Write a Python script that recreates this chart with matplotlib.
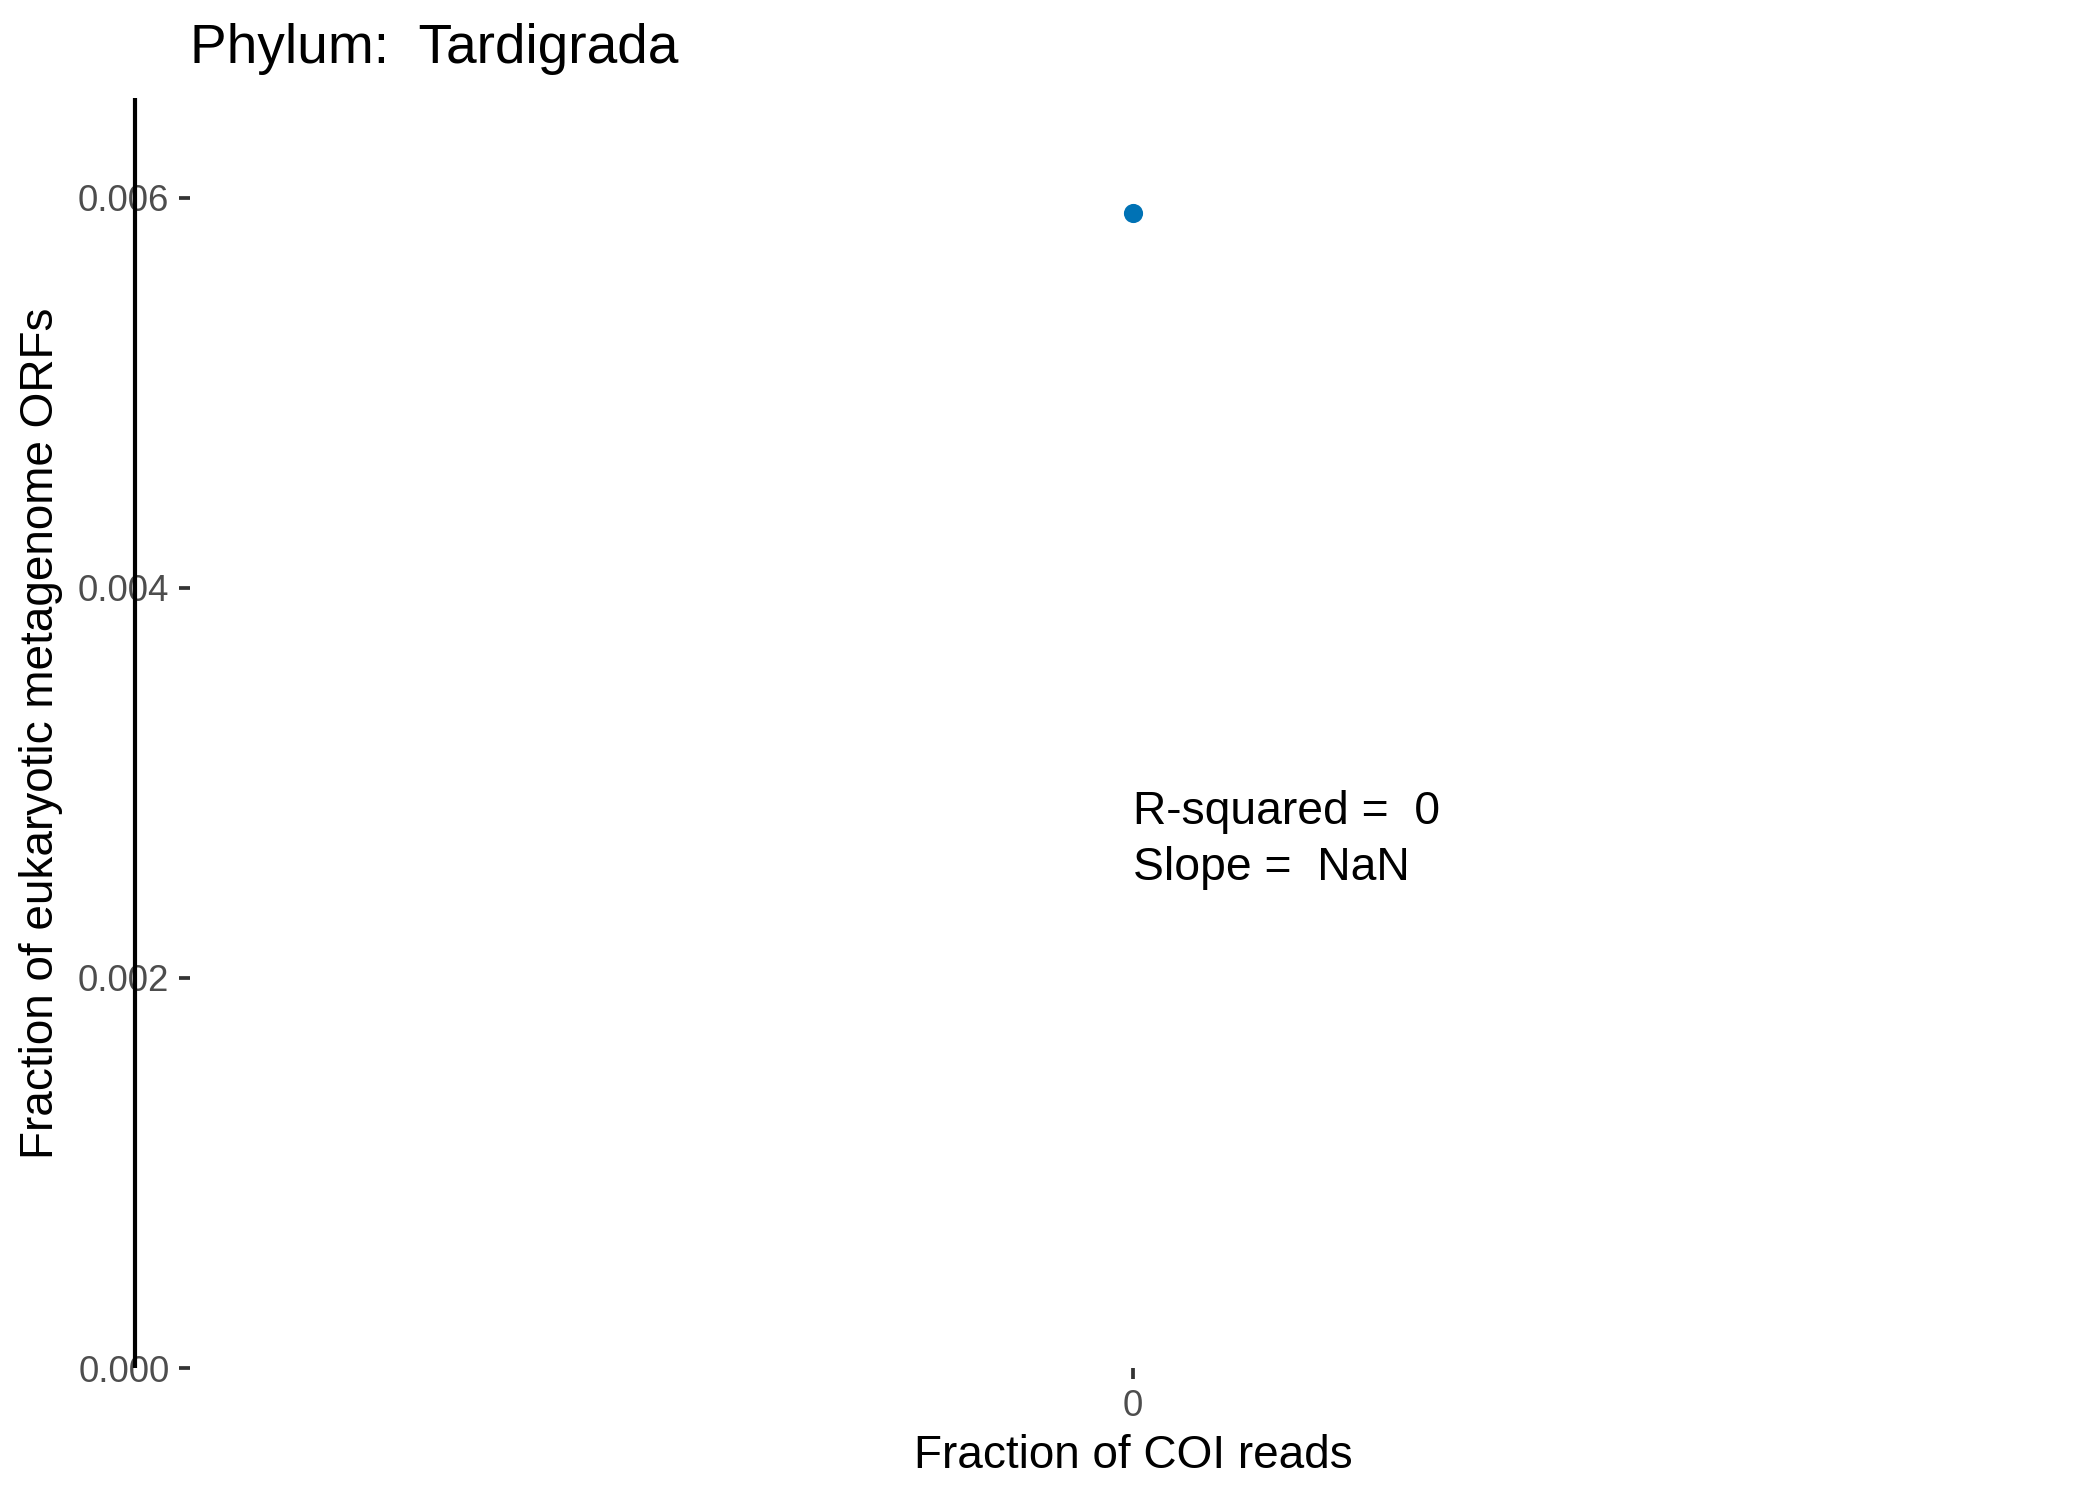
import matplotlib
matplotlib.use("Agg")
import matplotlib.pyplot as plt

plt.rcParams['font.family'] = ['Liberation Sans', 'DejaVu Sans']

# ---- data ----
phylum = "Tardigrada"
coi_fraction = [0.0]
orf_fraction = [0.00592]
r_squared_text = "0"
slope_text = "NaN"
y_ticks = [0.000, 0.002, 0.004, 0.006]
y_tick_labels = ["0.000", "0.002", "0.004", "0.006"]
x_ticks = [0]
x_tick_labels = ["0"]
ann_x = 0.0
ann_y = 0.00250

fig = plt.figure(figsize=(7, 5), dpi=300)
ax = fig.add_axes([190/2100, 1 - 1368/1500, (2076 - 190)/2100, (1368 - 98)/1500])

ax.plot(coi_fraction, orf_fraction, linestyle='none', marker='o',
        markersize=4.6, color='#0072B5', markeredgewidth=0)

ax.set_xlim(-0.05, 0.05)
ax.set_ylim(0, 1.1 * max(orf_fraction))

for s in ax.spines.values():
    s.set_visible(False)

# the black vertical rule left of the y ticks
ax.plot([-0.029, -0.029], [0, 1], transform=ax.transAxes, color='black',
        linewidth=1.0, clip_on=False, solid_capstyle='butt')

ax.set_yticks(y_ticks)
ax.set_yticklabels(y_tick_labels)
ax.set_xticks(x_ticks)
ax.set_xticklabels(x_tick_labels)
ax.tick_params(axis='both', direction='out', length=2.75, width=0.9,
               color='#333333', labelsize=8.8, labelcolor='#4D4D4D', pad=2.2)

ax.set_xlabel("Fraction of COI reads", fontsize=11, labelpad=2.5, color='black')
ax.set_ylabel("Fraction of eukaryotic metagenome ORFs", fontsize=11,
              labelpad=3.5, color='black')
ax.set_title("Phylum:  " + phylum, loc='left', fontsize=13.2, pad=8.4)

ax.text(ann_x, ann_y, "R-squared =  " + r_squared_text + "\nSlope =  " + slope_text,
        fontsize=11.1, ha='left', va='baseline', color='black', linespacing=1.36)

fig.savefig("out.png", dpi=300, facecolor='white')
